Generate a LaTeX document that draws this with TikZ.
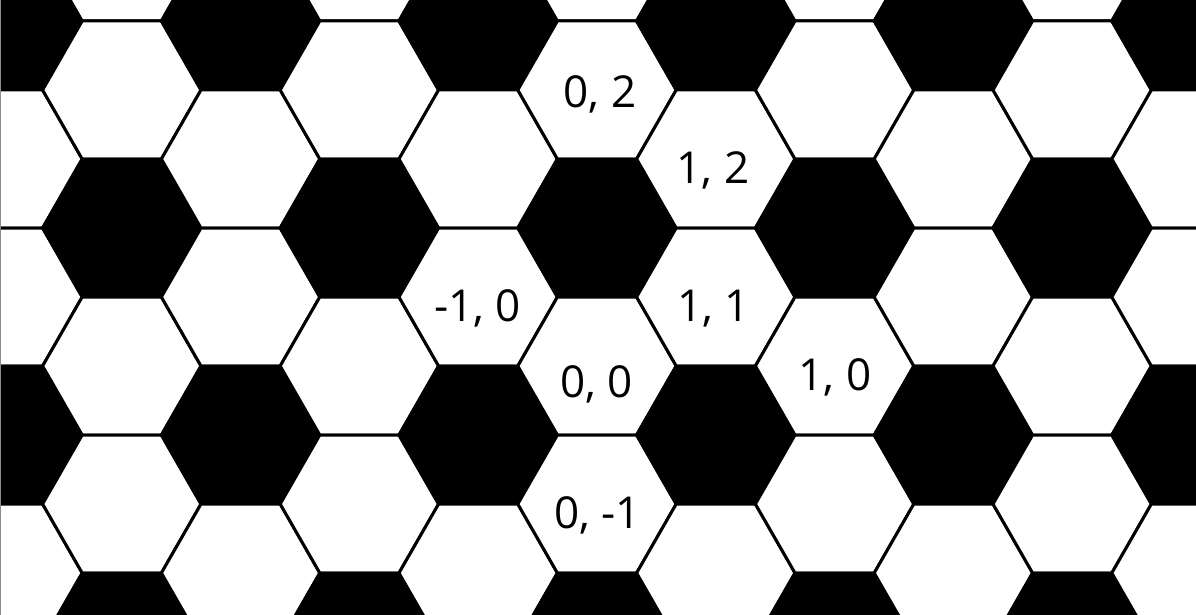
\documentclass[tikz,border=0pt]{standalone}
\usepackage{fontspec}
\setmainfont{Open Sans}
\usepackage{tikz}
\definecolor{tileDark}{HTML}{000000}
\definecolor{tileLight}{HTML}{FFFFFF}
\definecolor{edgeGrey}{HTML}{8C8C8C}

\begin{document}
\begin{tikzpicture}[x=1pt, y=-1pt, every node/.style={align=center, inner sep=0pt, anchor=base, font=\fontsize{44}{52}\selectfont},
    hexcell/.style={draw=black, line width=3pt, line join=miter}]
    \useasboundingbox (0,0) rectangle (1196,615);
    \clip (0,0) rectangle (1196,615);
    % tiling: every third cell of a column is dark
    \foreach \c in {-5,...,5} {
      \foreach \k in {-6,...,7} {
        \pgfmathsetmacro{\cx}{597+\c*118.8}
        \pgfmathsetmacro{\cy}{228+(\k-\c/2)*138}
        \pgfmathtruncatemacro{\dark}{mod(\k+\c+30,3)==0}
        \ifnum\dark=1 \def\tilecol{tileDark}\else\def\tilecol{tileLight}\fi
        \filldraw[hexcell, fill=\tilecol] (\cx+79.2,\cy) -- ++(-39.6,69) -- ++(-79.2,0) -- ++(-39.6,-69) -- ++(39.6,-69) -- ++(79.2,0) -- cycle;
      }
    }
    \draw[edgeGrey, line width=1.2pt] (0.6,0) -- (0.6,615);
    \node (c02) at (600,108) {0, 2};
    \node (c12) at (713,183.3) {1, 2};
    \node (cm10) at (477.5,321.7) {-1, 0};
    \node (c11) at (713.5,321.7) {1, 1};
    \node (c00) at (596.5,397) {0, 0};
    \node (c10) at (835,390) {1, 0};
    \node (c0m1) at (597.5,528) {0, -1};
  \end{tikzpicture}
\end{document}
